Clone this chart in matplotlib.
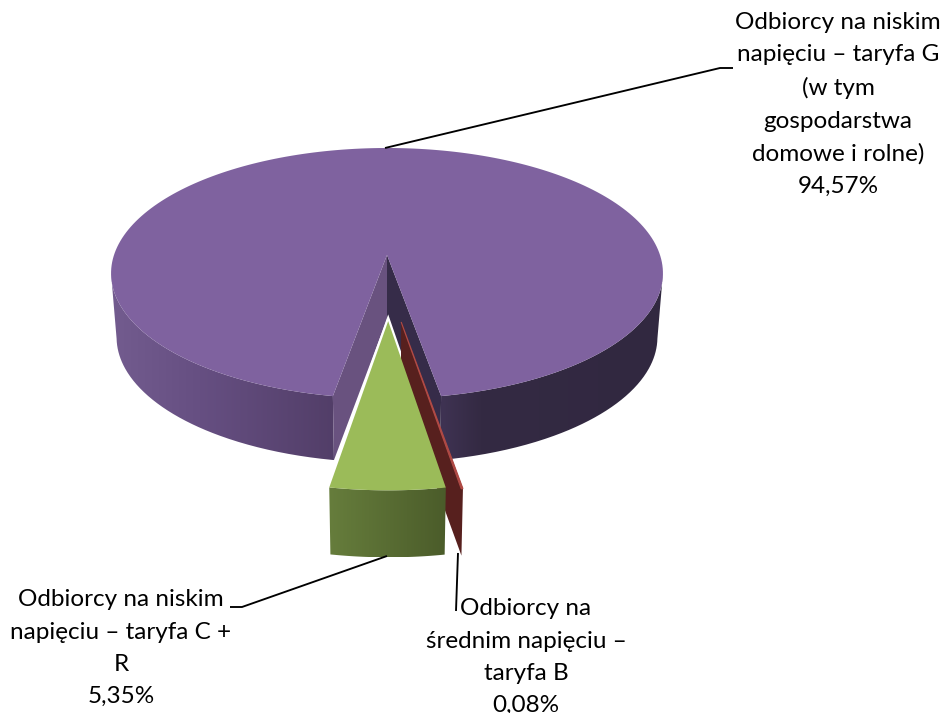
import numpy as np
import matplotlib
matplotlib.use("Agg")
import matplotlib.pyplot as plt
from matplotlib.colors import to_rgb
from matplotlib.path import Path
from matplotlib.patches import Polygon

# ---- data ----
categories = ["Odbiorcy na niskim\nnapięciu – taryfa G\n(w tym\ngospodarstwa\ndomowe i rolne)",
              "Odbiorcy na niskim\nnapięciu – taryfa C +\nR",
              "Odbiorcy na\nśrednim napięciu –\ntaryfa B"]
values = [94.57, 5.35, 0.08]
value_labels = ["94,57%", "5,35%", "0,08%"]

# ---- style / projection ----
CX, CY = 387.0, 255.0
R, H, K = 273.0, 122.6, 0.1457
LOWER_X = 0.98
DROP_MAIN, DROP_EXPLODED = 64.0, 67.0
EXPLODE = {"green": (0.004, 0.50), "red": (0.048, 0.506)}
SILHOUETTE = np.degrees(np.arccos(K))

fig = plt.figure(figsize=(9.46, 7.13), dpi=100)
ax = fig.add_axes([0, 0, 1, 1])
ax.axis("off")


def project(x, y, drop=None):
    x, y = np.asarray(x, float), np.asarray(y, float)
    w = 1 - K * y
    sx, sy = R * x / w, H * y / w
    if drop is not None:
        sx, sy = sx * LOWER_X, sy + drop
    return np.column_stack([CX + sx, CY + sy])


def arc(a0, a1, off=(0, 0), drop=None, n=240):
    t = np.radians(np.linspace(a0, a1, n))
    return project(off[0] + np.sin(t), off[1] + np.cos(t), drop)


def point(off=(0, 0), drop=None):
    return project([off[0]], [off[1]], drop)


def gradient_fill(pts, stops, zorder):
    xmin, xmax = pts[:, 0].min(), pts[:, 0].max()
    xs = np.linspace(xmin, xmax, 512)
    sx = [s[0] for s in stops]
    rgb = np.array([to_rgb(s[1]) for s in stops])
    img = np.stack([np.interp(xs, sx, rgb[:, i]) for i in range(3)], axis=-1)[None, :, :]
    ymin, ymax = pts[:, 1].min(), pts[:, 1].max()
    im = ax.imshow(img, extent=(xmin, xmax, ymax, ymin), aspect="auto",
                   zorder=zorder, interpolation="bilinear")
    im.set_clip_path(Path(pts), ax.transData)


def poly(pts, fc, z, ec="none", lw=0):
    ax.add_patch(Polygon(pts, closed=True, facecolor=fc, edgecolor=ec, linewidth=lw, zorder=z))


total = sum(values)
sweep = [v / total * 360 for v in values]
half_gap = (sweep[1] + sweep[2]) / 2
g0, g1 = -half_gap, -half_gap + sweep[1]   # green slice
r0, r1 = g1, g1 + sweep[2]                 # red slice

# purple walls
left_wall = np.vstack([arc(-half_gap, -SILHOUETTE), arc(-SILHOUETTE, -half_gap, drop=DROP_MAIN)])
gradient_fill(left_wall, [(117, "#725b8e"), (200, "#664f82"), (335, "#523e68")], 1)
right_wall = np.vstack([arc(half_gap, SILHOUETTE), arc(SILHOUETTE, half_gap, drop=DROP_MAIN)])
gradient_fill(right_wall, [(441, "#3f3353"), (480, "#342a43"), (657, "#312840")], 1)

# purple cut faces
poly(np.vstack([point(), arc(-half_gap, -half_gap, n=1), arc(-half_gap, -half_gap, drop=DROP_MAIN, n=1),
                point(drop=DROP_MAIN)]), "#69527f", 2)
poly(np.vstack([point(), arc(half_gap, half_gap, n=1), arc(half_gap, half_gap, drop=DROP_MAIN, n=1),
                point(drop=DROP_MAIN)]), "#362c49", 2)

# purple top
poly(np.vstack([point(), arc(half_gap, 360 - half_gap)]), "#7f629f", 3)

# green slice white outline
green_off = EXPLODE["green"]
green_top = np.vstack([point(green_off), arc(g0, g1, green_off, n=40)])
poly(green_top, "white", 4, ec="white", lw=3.2)

# red slice
red_off = EXPLODE["red"]
red_side = np.vstack([point(red_off), arc(r1, r1, red_off, n=1),
                      arc(r1, r1, red_off, drop=DROP_EXPLODED, n=1), point(red_off, drop=DROP_EXPLODED)])
poly(red_side, "#57201e", 5)
poly(np.vstack([point(red_off), arc(r0, r1, red_off, n=10)]), "#b04a45", 6, ec="#b04a45", lw=0.8)

# green wall and top
green_wall = np.vstack([arc(g0, g1, green_off, n=40), arc(g1, g0, green_off, drop=DROP_EXPLODED, n=40)])
gradient_fill(green_wall, [(330, "#667d3c"), (446, "#4b5c2a")], 7)
poly(green_top, "#9bbb59", 8)

# leader lines
leader = dict(color="black", lw=1.35, zorder=9, solid_capstyle="butt")
ax.plot([385, 720, 733], [148, 68, 68], **leader)
ax.plot([387, 242, 230], [556, 607, 607], **leader)
ax.plot([458, 456], [553, 611], **leader)

# labels
font = dict(family="Lato", fontsize=17.45, color="black", ha="center", va="baseline",
            linespacing=1.66, zorder=10)
ax.text(838, 193, categories[0] + "\n" + value_labels[0], **font)
ax.text(121, 703, categories[1] + "\n" + value_labels[1], **font)
ax.text(526, 712, categories[2] + "\n" + value_labels[2], **font)

ax.set_xlim(0, 946)
ax.set_ylim(713, 0)
fig.savefig("out.png", dpi=100, facecolor="white")
